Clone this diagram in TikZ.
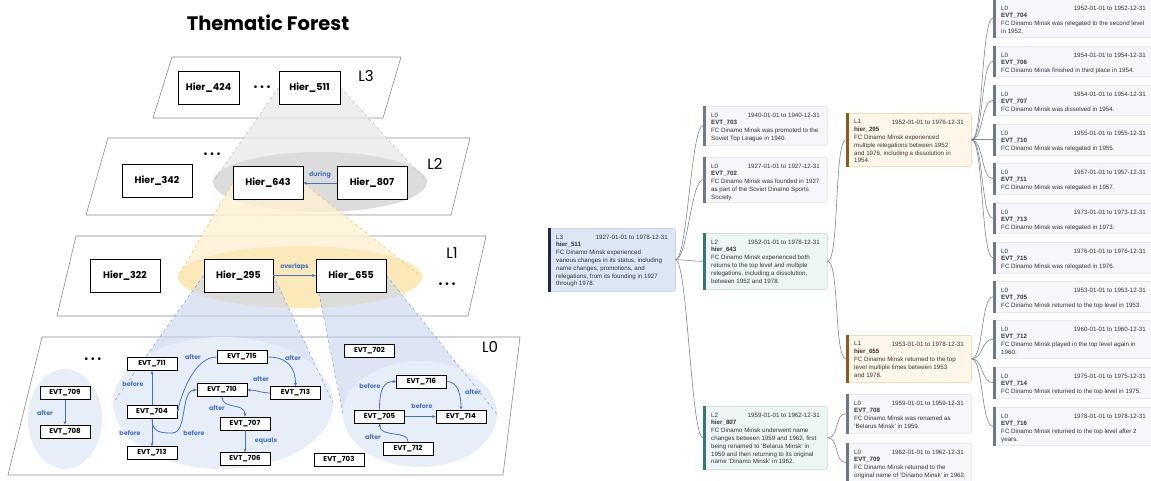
\documentclass[tikz,border=0pt]{standalone}
\usepackage{fontspec}
\setmainfont{Liberation Sans}
\newfontfamily\comicfont{Poppins}
\usetikzlibrary{arrows.meta,shapes.geometric,backgrounds}

\definecolor{relblue}{HTML}{4472C4}
\definecolor{planegray}{HTML}{8C8C8C}
\definecolor{ellgray}{HTML}{DCDCDC}
\definecolor{conegray}{HTML}{EAEAEA}
\definecolor{dashgray}{HTML}{BDBDBD}
\definecolor{ellyellow}{HTML}{FCE9BA}
\definecolor{coneyellow}{HTML}{FFF2D2}
\definecolor{dashyellow}{HTML}{F5C242}
\definecolor{ellblue}{HTML}{E8EEF8}
\definecolor{coneblue}{HTML}{C7D5EF}
\definecolor{dashblue}{HTML}{7F9FDB}
\definecolor{cardtext}{HTML}{333333}
\definecolor{linkgray}{HTML}{7D8593}
\definecolor{fill0}{HTML}{F5F7FA}\definecolor{line0}{HTML}{DCE0E6}\definecolor{bar0}{HTML}{6F7887}
\definecolor{fill1}{HTML}{FFF6EA}\definecolor{line1}{HTML}{EDCB98}\definecolor{bar1}{HTML}{8B5A24}
\definecolor{fill2}{HTML}{EDF6F4}\definecolor{line2}{HTML}{BBDAD2}\definecolor{bar2}{HTML}{2E7B6F}
\definecolor{fill3}{HTML}{DBE7F5}\definecolor{line3}{HTML}{B0C6E2}\definecolor{bar3}{HTML}{1F2B45}

\begin{document}
\begin{tikzpicture}[x=1pt, y=-1pt, >={Stealth[length=3.5pt,width=3pt]},
	plane/.style={draw=planegray, fill=white, line width=0.6pt},
	hier/.style={draw, line width=0.9pt, fill=white, minimum width=70, minimum height=33, inner sep=0, font=\comicfont\bfseries\fontsize{9.5}{10}\selectfont},
	evt/.style={draw, line width=0.8pt, fill=white, minimum width=50, minimum height=13, inner sep=0, font=\comicfont\bfseries\fontsize{7}{7}\selectfont},
	rel/.style={->, draw=relblue, line width=0.8pt},
	rellab/.style={text=relblue, inner sep=0, font=\comicfont\bfseries\fontsize{6.3}{6.3}\selectfont},
	lvl/.style={inner sep=0, font=\comicfont\fontsize{15}{15}\selectfont},
	dots/.style={inner sep=0, font=\fontsize{10}{10}\selectfont},
	card/.style={rectangle, rounded corners=2pt, line width=0.5pt, inner sep=0, anchor=north west},
	cardtxt/.style={inner sep=0, align=left, text=cardtext, font=\fontsize{6.2}{7.8}\selectfont},
	link/.style={draw=linkgray, line width=0.6pt}]
	\useasboundingbox (0,0) rectangle (1151,480);

	\node[inner sep=0, font=\comicfont\bfseries\fontsize{19.5}{20}\selectfont] (title) at (268,23) {Thematic Forest};

	% L3
	\node[hier, minimum width=61] (h424) at (208.5,87.5) {Hier\_424};
	\node[hier, minimum width=61] (h511) at (309.5,87.5) {Hier\_511};
	\node[dots] (dots3) at (262,88) {\textbullet\hspace{3pt}\textbullet\hspace{3pt}\textbullet};
	\node[lvl] (L3) at (366,76) {L3};
	% L2
	\node[hier] (h342) at (157,180.5) {Hier\_342};
	\node[hier] (h643) at (268,183) {Hier\_643};
	\node[hier] (h807) at (372,183) {Hier\_807};
	\node[dots] (dots2) at (212,155) {\textbullet\hspace{3pt}\textbullet\hspace{3pt}\textbullet};
	\node[lvl] (L2) at (435,164) {L2};
	\draw[rel] (h807) -- (h643) node[rellab, midway, above=4pt] (during) {during};
	% L1
	\node[hier] (h322) at (125,275.5) {Hier\_322};
	\node[hier, minimum width=69] (h295) at (238.5,275.5) {Hier\_295};
	\node[hier] (h655) at (351,275.5) {Hier\_655};
	\node[dots] (dots1) at (447,285) {\textbullet\hspace{3pt}\textbullet\hspace{3pt}\textbullet};
	\node[lvl] (L1) at (452,253) {L1};
	\draw[rel] (h295) -- (h655) node[rellab, midway, above=5pt] (overlaps) {overlaps};
	% L0
	\foreach \nm/\x/\y/\t in {e709/65/393/709, e708/65/431.5/708, e711/152/364/711, e715/242/357/715,
		e710/222/390/710, e713a/295.5/393/713, e704/152/412/704, e707/245/423.5/707, e713b/152/453/713,
		e706/245/459/706, e702/369.5/351/702, e703/339/460/703, e716/421.5/381.5/716, e705/379.5/416.5/705,
		e714/461/416.5/714, e712/408/448.5/712} {
		\node[evt] (\nm) at (\x,\y) {EVT\_\t};
	};
	\node[dots] (dots0) at (93,360) {\textbullet\hspace{3pt}\textbullet\hspace{3pt}\textbullet};
	\node[lvl] (L0) at (490,347) {L0};
	\draw[rel] (e709) -- (e708);
	\draw[rel] (e704) -- (e711);
	\draw[rel] (e704) -- (e713b);
	\draw[rel] (e704.south) .. controls (152,432) and (160,433) .. (172,433) .. controls (188,433) and (180,390) .. (e710.west);
	\draw[rel] (e715.west) .. controls (195,357) and (182,392) .. (e704.east);
	\draw[rel] (e715.east) .. controls (288,357) and (295.5,368) .. (e713a.north);
	\draw[rel] (e713a.west) .. controls (262,393) and (256,390) .. (e710.east);
	\draw[rel] (e710.south) .. controls (222,410) and (245,402) .. (e707.north);
	\draw[rel] (e707) -- (e706);
	\draw[rel] (e705.north) .. controls (379.5,388) and (384,381.5) .. (e716.west);
	\draw[rel] (e705) -- (e714);
	\draw[rel] (e716.east) .. controls (458,381.5) and (461,395) .. (e714.north);
	\draw[rel] (e712.north) .. controls (408,430) and (380,438) .. (e705.south);
	\foreach \t/\x/\y [count=\i] in {after/45/413, before/133/384, before/130/433, before/194/433, after/193/357,
		after/293/358, after/261/379, after/217/408, equals/266/441, before/370/386, before/422/406,
		after/473/392, after/373/437} {
		\node[rellab] (lab\i) at (\x,\y) {\t};
	};

	% planes, ellipses and cones
	\begin{pgfonlayer}{background}
		\draw[plane] (172,57) -- (401,57) -- (383,118) -- (153,118) -- cycle;
		\draw[plane] (108,138) -- (470,138) -- (451,215) -- (86,215) -- cycle;
		\draw[plane] (76,236) -- (486,236) -- (468,316) -- (57,316) -- cycle;
		\draw[plane] (42,337) -- (520,337) -- (503,475) -- (8,475) -- cycle;
		\coordinate (g1) at (213,182); \coordinate (g2) at (427,182);
		\coordinate (y1) at (178,277); \coordinate (y2) at (422,277);
		\coordinate (b1) at (113,403); \coordinate (b2) at (333,403);
		\coordinate (b3) at (343,414); \coordinate (b4) at (497,414);
		\fill[conegray, fill opacity=0.8] (h511.west) -- (g1) -- (g2) -- (h511.east) -- cycle;
		\fill[ellgray] (320,182) ellipse [x radius=107, y radius=30];
		\fill[coneyellow, fill opacity=0.8] (h643.west) -- (y1) -- (y2) -- (h643.east) -- cycle;
		\fill[ellyellow] (300,277) ellipse [x radius=122, y radius=31];
		\fill[coneblue, fill opacity=0.6] (h295.west) -- (b1) -- (b2) -- (h295.east) -- cycle;
		\fill[coneblue, fill opacity=0.6] (h655.west) -- (b3) -- (b4) -- (h655.east) -- cycle;
		\fill[ellblue] (65,419) ellipse [x radius=37, y radius=50];
		\fill[ellblue] (223,403) ellipse [x radius=110, y radius=66];
		\fill[ellblue] (420,414) ellipse [x radius=77, y radius=53];
		\draw[dashgray, dashed, line width=0.5pt] (h511.west) -- (g1) (h511.east) -- (g2);
		\draw[dashyellow, dashed, line width=0.5pt] (h643.west) -- (y1) (h643.east) -- (y2);
		\draw[dashblue, dashed, line width=0.5pt] (h295.west) -- (b1) (h295.east) -- (b2) (h655.west) -- (b3) (h655.east) -- (b4);
	\end{pgfonlayer}

	% timeline cards
	\foreach \nm/\x/\y/\w/\h/\lv/\dt/\id/\ds in {
		c511/548/228/127/63/3/{1927-01-01 to 1978-12-31}/hier\_511/{FC Dinamo Minsk experienced\\various changes in its status, including\\name changes, promotions, and\\relegations, from its founding in 1927\\through 1978.},
		c703/703/106/124/39/0/{1940-01-01 to 1940-12-31}/EVT\_703/{FC Dinamo Minsk was promoted to the\\Soviet Top League in 1940.},
		c702/703/157/124/45/0/{1927-01-01 to 1927-12-31}/EVT\_702/{FC Dinamo Minsk was founded in 1927\\as part of the Soviet Dinamo Sports\\Society.},
		c643/703/233/124/56/2/{1952-01-01 to 1978-12-31}/hier\_643/{FC Dinamo Minsk experienced both\\returns to the top level and multiple\\relegations, including a dissolution,\\between 1952 and 1978.},
		c807/703/406/124/63/2/{1959-01-01 to 1962-12-31}/hier\_807/{FC Dinamo Minsk underwent name\\changes between 1959 and 1962, first\\being renamed to 'Belarus Minsk' in\\1959 and then returning to its original\\name 'Dinamo Minsk' in 1962.},
		c295/846/113/125/53/1/{1952-01-01 to 1976-12-31}/hier\_295/{FC Dinamo Minsk experienced\\multiple relegations between 1952\\and 1976, including a dissolution in\\1954.},
		c655/846/335/125/47/1/{1953-01-01 to 1978-12-31}/hier\_655/{FC Dinamo Minsk returned to the top\\level multiple times between 1953\\and 1978.},
		c708/846/394/125/39/0/{1959-01-01 to 1959-12-31}/EVT\_708/{FC Dinamo Minsk was renamed as\\'Belarus Minsk' in 1959.},
		c709/846/443/125/39/0/{1962-01-01 to 1962-12-31}/EVT\_709/{FC Dinamo Minsk returned to the\\original name of 'Dinamo Minsk' in 1962.},
		c704/993/-1/160/38/0/{1952-01-01 to 1952-12-31}/EVT\_704/{FC Dinamo Minsk was relegated to the second level\\in 1952.},
		c706/993/46/160/30/0/{1954-01-01 to 1954-12-31}/EVT\_706/{FC Dinamo Minsk finished in third place in 1954.},
		c707/993/85/160/30/0/{1954-01-01 to 1954-12-31}/EVT\_707/{FC Dinamo Minsk was dissolved in 1954.},
		c710/993/124/160/31/0/{1955-01-01 to 1955-12-31}/EVT\_710/{FC Dinamo Minsk was relegated in 1955.},
		c711/993/163/160/31/0/{1957-01-01 to 1957-12-31}/EVT\_711/{FC Dinamo Minsk was relegated in 1957.},
		c713/993/203/160/30/0/{1973-01-01 to 1973-12-31}/EVT\_713/{FC Dinamo Minsk was relegated in 1973.},
		c715/993/242/160/31/0/{1976-01-01 to 1976-12-31}/EVT\_715/{FC Dinamo Minsk was relegated in 1976.},
		c705/993/281/160/31/0/{1953-01-01 to 1953-12-31}/EVT\_705/{FC Dinamo Minsk returned to the top level in 1953.},
		c712/993/320/160/38/0/{1960-01-01 to 1960-12-31}/EVT\_712/{FC Dinamo Minsk played in the top level again in\\1960.},
		c714/993/367/160/31/0/{1975-01-01 to 1975-12-31}/EVT\_714/{FC Dinamo Minsk returned to the top level in 1975.},
		c716/993/407/160/38/0/{1978-01-01 to 1978-12-31}/EVT\_716/{FC Dinamo Minsk returned to the top level after 2\\years.}} {
		\node[card, fill=fill\lv, draw=line\lv, minimum width=\w, minimum height=\h] (\nm) at (\x,\y) {};
		\fill[bar\lv] (\nm.north west) rectangle ([shift={(3,0)}]\nm.south west);
		\node[cardtxt, anchor=north west] (\nm-txt) at ([shift={(8,6.5)}]\nm.north west) {L\lv\\\textbf{\id}\\\ds};
		\node[cardtxt, anchor=north east] (\nm-date) at ([shift={(-7.5,6.5)}]\nm.north east) {\dt};
	};
	\foreach \p/\c in {c511/c703, c511/c702, c511/c643, c511/c807, c643/c295, c643/c655, c807/c708, c807/c709,
		c295/c704, c295/c706, c295/c707, c295/c710, c295/c711, c295/c713, c295/c715,
		c655/c705, c655/c712, c655/c714, c655/c716} {
		\draw[link] (\p.east) .. controls +(12,0) and +(-12,0) .. (\c.west);
	};
\end{tikzpicture}
\end{document}
